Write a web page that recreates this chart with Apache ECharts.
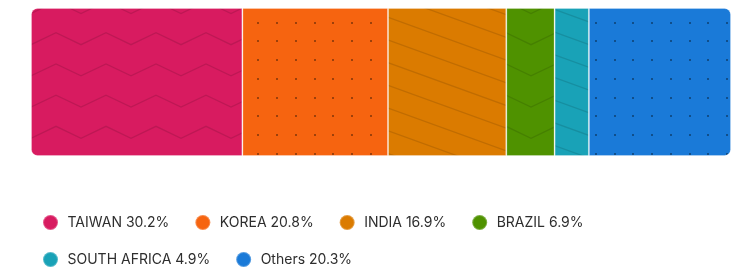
<!DOCTYPE html>
<html><head><meta charset="utf-8">
<script src="https://cdn.jsdelivr.net/npm/echarts@6/dist/echarts.min.js"></script>
<style>html,body{margin:0;padding:0;background:#fff}#c{width:753px;height:269px}</style>
</head><body><div id="c"></div>
<script>
const categories = ['TAIWAN', 'KOREA', 'INDIA', 'BRAZIL', 'SOUTH AFRICA', 'Others'];
const shares = [30.2, 20.8, 16.9, 6.9, 4.9, 20.3];
const colors = ['#d81b60', '#f66410', '#db7b00', '#4f9200', '#19a2b7', '#1a7ad8'];
const patternKinds = ['zigzag', 'dots', 'diagonal', 'zigzag', 'diagonal', 'dots'];
const legendRow1 = categories.slice(0, 4);
const legendRow2 = categories.slice(4);

function makePattern(base, kind) {
  const W = 753, H = 269;
  const c = document.createElement('canvas');
  c.width = W; c.height = H;
  const g = c.getContext('2d');
  g.fillStyle = base; g.fillRect(0, 0, W, H);
  g.strokeStyle = 'rgba(0,0,0,0.12)';
  g.lineWidth = 1.3;
  if (kind === 'zigzag') {
    for (let t = 13.5 - 31.2; t < H + 31; t += 31.2) {
      g.beginPath();
      let i = 0;
      for (let x = -44; x < W + 60; x += 25, i++) {
        const y = (i % 2 === 0) ? t - 12 : t;
        if (i === 0) g.moveTo(x, y); else g.lineTo(x, y);
      }
      g.stroke();
    }
  } else if (kind === 'diagonal') {
    for (let b = 13 - 22.7 * 14; b < H + 22.7; b += 22.7) {
      g.beginPath();
      g.moveTo(0, b);
      g.lineTo(W, b + 0.362 * W);
      g.stroke();
    }
  } else if (kind === 'dots') {
    g.fillStyle = 'rgba(0,0,0,0.36)';
    for (let x = 14.5; x < W; x += 18.75) {
      for (let y = 3.95; y < H; y += 18.75) {
        g.fillRect(Math.round(x) - 1, Math.round(y) - 1, 2, 2);
      }
    }
  }
  return c;
}

const n = categories.length;
const series = categories.map((name, i) => ({
  name: name,
  type: 'bar',
  stack: 'total',
  barWidth: '100%',
  data: [shares[i]],
  itemStyle: {
    color: { image: makePattern(colors[i], patternKinds[i]), repeat: 'repeat' },
    borderColor: 'rgba(255,255,255,0.25)',
    borderWidth: 1,
    borderRadius: i === 0 ? [6, 0, 0, 6] : (i === n - 1 ? [0, 6, 6, 0] : 0)
  },
  emphasis: { disabled: true }
}));

const legendText = { fontFamily: 'Inter', fontSize: 14, color: '#2e2e2e' };
const fmt = name => name + ' ' + shares[categories.indexOf(name)].toFixed(1) + '%';
const legendData = arr => arr.map(name => ({ name: name, itemStyle: { color: colors[categories.indexOf(name)] } }));

const chart = echarts.init(document.getElementById('c'), null, { renderer: 'canvas' });
chart.setOption({
  animation: false,
  grid: { left: 31, right: 22, top: 8, height: 148 },
  xAxis: { type: 'value', min: 0, max: 100, show: false },
  yAxis: { type: 'category', data: ['share'], show: false },
  legend: [
    { left: 42, top: 214, padding: 0, icon: 'circle', itemWidth: 24, itemHeight: 15, itemGap: 25,
      textStyle: legendText, formatter: fmt, data: legendData(legendRow1) },
    { left: 42, top: 251, padding: 0, icon: 'circle', itemWidth: 24, itemHeight: 15, itemGap: 25,
      textStyle: legendText, formatter: fmt, data: legendData(legendRow2) }
  ],
  series: series
});
</script>
</body></html>
